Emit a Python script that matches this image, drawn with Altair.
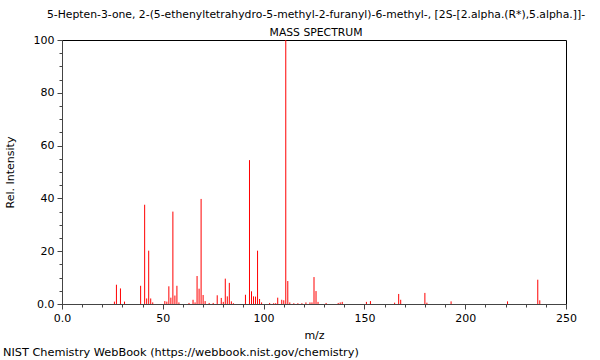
import altair as alt
import pandas as pd

TITLE = "5-Hepten-3-one, 2-(5-ethenyltetrahydro-5-methyl-2-furanyl)-6-methyl-, [2S-[2.alpha.(R*),5.alpha.]]-"
SUBTITLE = "MASS SPECTRUM"
FOOTER = "NIST Chemistry WebBook (https://webbook.nist.gov/chemistry)"

mz = [26, 27, 29, 31, 39, 41, 42, 43, 44, 45, 51, 52, 53, 54, 55, 56, 57, 58, 63,
      65, 66, 67, 68, 69, 70, 71, 73, 75, 77, 79, 80, 81, 82, 83, 84, 85, 91, 93,
      94, 95, 96, 97, 98, 99, 103, 105, 106, 107, 109, 110, 111, 112, 113, 115,
      117, 119, 121, 123, 124, 125, 126, 127, 131, 137, 138, 139, 151, 153, 165,
      167, 168, 180, 181, 193, 221, 236, 237]
intensity = [0.9, 7.3, 5.9, 0.9, 6.9, 37.6, 2.1, 20.2, 2.1, 0.6, 1.1, 0.9, 6.7, 2.4,
             35.0, 3.2, 6.9, 0.6, 0.4, 1.6, 0.6, 10.6, 5.8, 39.8, 3.4, 1.1, 0.4, 0.4,
             3.3, 2.3, 0.8, 9.6, 2.9, 8.0, 1.0, 0.3, 3.5, 54.5, 4.8, 2.9, 2.8, 20.2,
             1.9, 0.6, 0.4, 0.3, 0.3, 2.4, 1.6, 1.4, 100.0, 8.7, 0.6, 0.3, 0.3, 0.3,
             0.6, 0.6, 0.6, 10.2, 4.9, 0.8, 0.4, 0.4, 0.6, 0.8, 0.8, 1.1, 0.5, 3.8,
             1.6, 4.2, 0.5, 1.0, 1.0, 9.2, 1.4]

x_major = [0, 50, 100, 150, 200, 250]
x_minor = list(range(0, 251, 10))
y_major = [0, 20, 40, 60, 80, 100]
y_minor = list(range(0, 101, 5))

df = pd.DataFrame({"mz": mz, "intensity": intensity})
FONT = "DejaVu Sans"
AX = "#444444"

xscale = alt.Scale(domain=[0, 250], nice=False, zero=False)
yscale = alt.Scale(domain=[0, 100], nice=False)

peaks = alt.Chart(df).mark_rule(color="#ff0000", strokeWidth=1).encode(
    x=alt.X("mz:Q", scale=xscale,
            axis=alt.Axis(values=x_major, title="m/z", grid=False, tickSize=5,
                          labelExpr="datum.value == 0 ? '0.0' : datum.label",
                          labelPadding=3, titlePadding=6, domainColor=AX,
                          tickColor=AX, labelFlush=False)),
    y=alt.Y("intensity:Q", scale=yscale,
            axis=alt.Axis(values=y_major, title="Rel. Intensity", grid=False, tickSize=5,
                          labelExpr="datum.value == 0 ? '0.0' : datum.label",
                          labelPadding=3, domainColor=AX, tickColor=AX,
                          titleX=-52, titleY=132, titleAngle=-90,
                          titleAlign="center", titleBaseline="middle")),
    y2=alt.datum(0),
)

minor = alt.Chart(df).mark_rule(opacity=0).encode(
    x=alt.X("mz:Q", scale=xscale,
            axis=alt.Axis(values=x_minor, labels=False, title=None, grid=False,
                          tickSize=3, domain=False, orient="bottom", tickColor=AX)),
    y=alt.Y("intensity:Q", scale=yscale,
            axis=alt.Axis(values=y_minor, labels=False, title=None, grid=False,
                          tickSize=3, domain=False, orient="left", tickColor=AX)),
)

footer = alt.Chart(pd.DataFrame({"t": [FOOTER]})).mark_text(
    align="left", baseline="middle", fontSize=11.3, font=FONT, color="black"
).encode(x=alt.value(-59), y=alt.value(313), text="t:N")

chart = alt.layer(peaks, minor, footer).resolve_axis(
    x="independent", y="independent"
).properties(
    width=504, height=264,
    title=alt.TitleParams(TITLE, subtitle=SUBTITLE, anchor="middle", frame="group",
                          fontSize=10.8, subtitleFontSize=10.8, font=FONT,
                          subtitleFont=FONT, fontWeight="normal", color="black",
                          subtitleColor="black", offset=-4, subtitlePadding=7,
                          dx=2),
    autosize=alt.AutoSizeParams(type="none"),
    padding={"left": 62, "top": 40, "right": 34, "bottom": 56},
).configure_view(stroke="black", strokeWidth=1).configure_axis(
    labelFont=FONT, titleFont=FONT, labelFontSize=11, titleFontSize=11,
    labelColor="black", titleColor="black", titleFontWeight="normal"
)

chart.save("out.html", embed_options={"renderer": "svg", "actions": False})
